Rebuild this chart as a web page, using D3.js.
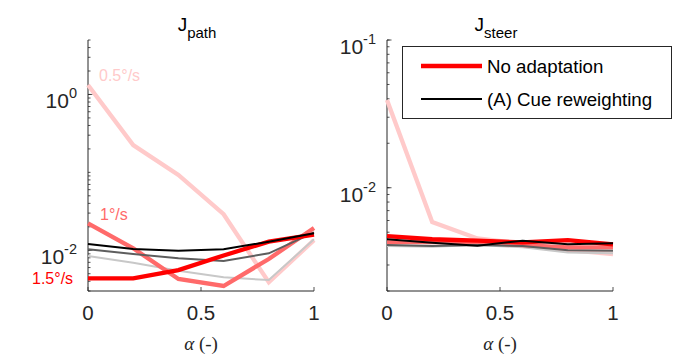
<!DOCTYPE html>
<html><head><meta charset="utf-8">
<script src="https://cdn.jsdelivr.net/npm/d3@7"></script>
<style>body{margin:0;background:#fff}svg{display:block}</style>
</head><body>
<svg id="c" width="676" height="358"></svg>
<script>
const alpha = [0, 0.2, 0.4, 0.6, 0.8, 1];
const xTicks = [0, 0.5, 1];
const xTickLabels = ["0", "0.5", "1"];
// J_path
const pathNoAdapt05 = [1.32, 0.224, 0.0925, 0.029, 0.00388, 0.0135];
const pathNoAdapt10 = [0.0222, 0.0106, 0.00428, 0.00348, 0.00773, 0.0193];
const pathNoAdapt15 = [0.00436, 0.00436, 0.00557, 0.00857, 0.0129, 0.0159];
const pathCue05 = [0.00843, 0.00692, 0.00546, 0.00449, 0.00415, 0.01383];
const pathCue10 = [0.01028, 0.00895, 0.00788, 0.00728, 0.00914, 0.0170];
const pathCue15 = [0.0120, 0.01037, 0.00986, 0.01028, 0.0129, 0.0165];
// J_steer
const steerNoAdapt05 = [0.0392, 0.00586, 0.00454, 0.00419, 0.00378, 0.00356];
const steerNoAdapt10 = [0.00427, 0.00431, 0.00427, 0.00409, 0.00395, 0.00395];
const steerNoAdapt15 = [0.00471, 0.00448, 0.00438, 0.00427, 0.00442, 0.00414];
const steerCue05 = [0.00403, 0.00398, 0.00409, 0.00395, 0.00365, 0.00360];
const steerCue10 = [0.00409, 0.00403, 0.00409, 0.00403, 0.00378, 0.00374];
const steerCue15 = [0.00448, 0.00424, 0.00405, 0.00438, 0.00414, 0.00421];
const pathDomain = [0.003, 5];
const steerDomain = [0.002, 0.1];
const pathMajor = [-2, 0];
const steerMajor = [-2, -1];
const speedLabels = ["0.5°/s", "1°/s", "1.5°/s"];
const legendLabels = ["No adaptation", "(A) Cue reweighting"];

const AX = "#262626";
const redCols = ["#ffcaca", "#ff6a6a", "#ff0000"];
const grayCols = ["#c8c8c8", "#5e5e5e", "#000000"];
const svg = d3.select("#c");
const yTop = 40, yBot = 291;

function panel(x0, x1, domain, major, noAd, cue, title, sub) {
  const x = d3.scaleLinear().domain([0, 1]).range([x0, x1]);
  const y = d3.scaleLog().domain(domain).range([yBot, yTop]);
  const g = svg.append("g");
  const lo = Math.floor(Math.log10(domain[0])), hi = Math.ceil(Math.log10(domain[1]));
  const minor = [];
  for (let e = lo; e <= hi; e++) for (let k = 1; k <= 9; k++) {
    const v = k * Math.pow(10, e);
    if (v >= domain[0] * 0.999 && v <= domain[1] * 1.001) minor.push(v);
  }
  g.selectAll(".mt").data(minor).enter().append("line")
    .attr("x1", x0).attr("x2", x0 + 2.5)
    .attr("y1", d => y(d)).attr("y2", d => y(d))
    .attr("stroke", AX).attr("stroke-width", 0.8);
  g.selectAll(".Mt").data(major).enter().append("line")
    .attr("x1", x0).attr("x2", x0 + 4.5)
    .attr("y1", d => y(Math.pow(10, d))).attr("y2", d => y(Math.pow(10, d)))
    .attr("stroke", AX).attr("stroke-width", 0.8);
  const yl = g.selectAll(".yl").data(major).enter().append("text")
    .attr("x", x0 - 11).attr("y", d => y(Math.pow(10, d)) + 14)
    .attr("text-anchor", "end").attr("fill", AX)
    .style("font-family", "Liberation Sans, Arial, sans-serif");
  yl.append("tspan").style("font-size", "21px").text("10");
  yl.append("tspan").style("font-size", "14.5px").attr("dy", -10).text(d => String(d));
  g.selectAll(".xt").data(xTicks).enter().append("line")
    .attr("x1", d => x(d)).attr("x2", d => x(d))
    .attr("y1", yBot).attr("y2", yBot - 4)
    .attr("stroke", AX).attr("stroke-width", 0.8);
  g.selectAll(".xl").data(xTicks).enter().append("text")
    .attr("x", d => x(d)).attr("y", yBot + 29)
    .attr("text-anchor", "middle").attr("fill", AX)
    .style("font-family", "Liberation Sans, Arial, sans-serif").style("font-size", "20.5px")
    .text((d, i) => xTickLabels[i]);
  g.append("line").attr("x1", x0).attr("x2", x0).attr("y1", yTop).attr("y2", yBot)
    .attr("stroke", AX).attr("stroke-width", 1);
  g.append("line").attr("x1", x0).attr("x2", x1).attr("y1", yBot).attr("y2", yBot)
    .attr("stroke", AX).attr("stroke-width", 1);
  const line = d3.line().x((d, i) => x(alpha[i])).y(d => y(d));
  for (let s = 0; s < 3; s++) {
    g.append("path").attr("d", line(noAd[s])).attr("fill", "none")
      .attr("stroke", redCols[s]).attr("stroke-width", 4.3);
    g.append("path").attr("d", line(cue[s])).attr("fill", "none")
      .attr("stroke", grayCols[s]).attr("stroke-width", 2);
  }
  const t = svg.append("text").attr("x", (x0 + x1) / 2 - 4).attr("y", 31)
    .attr("text-anchor", "middle").attr("fill", "#000")
    .style("font-family", "Liberation Sans, Arial, sans-serif");
  t.append("tspan").style("font-size", "19px").text(title);
  t.append("tspan").style("font-size", "15px").attr("dy", 7).text(sub);
  const xl = svg.append("text").attr("x", (x0 + x1) / 2).attr("y", 350)
    .attr("text-anchor", "middle").attr("fill", AX)
    .style("font-family", "Liberation Serif, DejaVu Serif, serif").style("font-size", "19px");
  xl.append("tspan").style("font-style", "italic").text("α");
  xl.append("tspan").text(" (-)");
  return { x, y, g };
}

panel(88, 314, pathDomain, pathMajor,
  [pathNoAdapt05, pathNoAdapt10, pathNoAdapt15], [pathCue05, pathCue10, pathCue15], "J", "path");
panel(387, 613, steerDomain, steerMajor,
  [steerNoAdapt05, steerNoAdapt10, steerNoAdapt15], [steerCue05, steerCue10, steerCue15], "J", "steer");

const lblPos = [[99, 81], [100, 220], [32, 284]];
speedLabels.forEach((s, i) => {
  svg.append("text").attr("x", lblPos[i][0]).attr("y", lblPos[i][1])
    .attr("fill", redCols[i])
    .style("font-family", "Liberation Sans, Arial, sans-serif").style("font-size", "16px")
    .text(s);
});

const lg = svg.append("g");
lg.append("rect").attr("x", 402.5).attr("y", 46.5).attr("width", 269).attr("height", 72)
  .attr("fill", "#fff").attr("stroke", AX).attr("stroke-width", 1);
const legCols = ["#ff0000", "#000000"], legW = [4.5, 2], legY = [66, 99];
legendLabels.forEach((s, i) => {
  lg.append("line").attr("x1", 421).attr("x2", 482).attr("y1", legY[i]).attr("y2", legY[i])
    .attr("stroke", legCols[i]).attr("stroke-width", legW[i]);
  lg.append("text").attr("x", 487).attr("y", legY[i] + 7).attr("fill", "#000")
    .style("font-family", "Liberation Sans, Arial, sans-serif").style("font-size", "18.7px")
    .text(s);
});
</script>
</body></html>
